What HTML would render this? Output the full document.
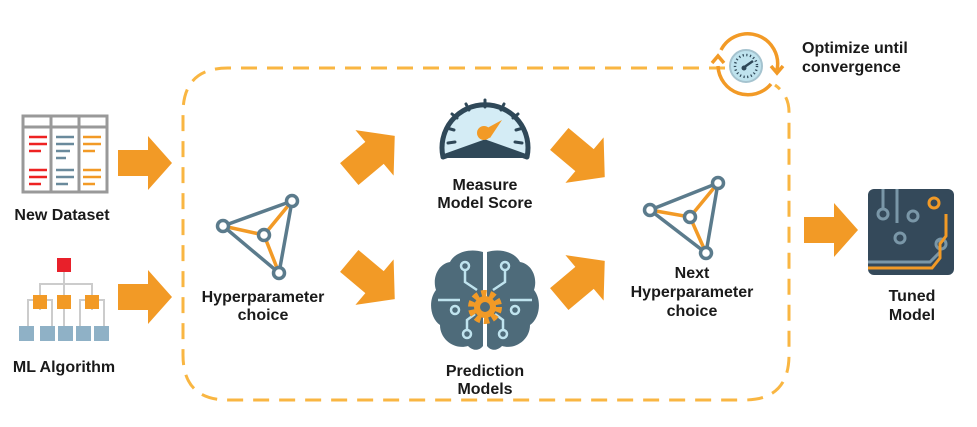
<!DOCTYPE html>
<html><head><meta charset="utf-8"><style>
html,body{margin:0;padding:0;background:#fff;}
svg{display:block}
text{font-family:"Liberation Sans",sans-serif;font-weight:bold;font-size:16px;fill:#1a1a1a;text-anchor:middle}
</style></head><body>
<svg width="977" height="427" viewBox="0 0 977 427" xmlns="http://www.w3.org/2000/svg">
<defs>
<g id="arr"><path d="M-27,-13 H3 V-27 L27,0 L3,27 V13 H-27 Z" fill="#f29a26"/></g>
</defs>
<path d="M725,68 H228 Q183,68 183,113 V355 Q183,400 228,400 H744 Q789,400 789,355 V112 Q789,95 775,85" fill="none" stroke="#f9b642" stroke-width="3" stroke-dasharray="16,10"/>
<use href="#arr" transform="translate(145,163)"/>
<use href="#arr" transform="translate(145,297)"/>
<use href="#arr" transform="translate(372,155) rotate(-40) scale(1.1)"/>
<use href="#arr" transform="translate(372,280) rotate(40) scale(1.1)"/>
<use href="#arr" transform="translate(582,158) rotate(40) scale(1.1)"/>
<use href="#arr" transform="translate(582,280) rotate(-40) scale(1.1)"/>
<use href="#arr" transform="translate(831,230)"/>
<rect x="23" y="116" width="84" height="76" fill="#fff" stroke="#999" stroke-width="3"/>
<line x1="23" y1="127" x2="107" y2="127" stroke="#999" stroke-width="3"/>
<line x1="51" y1="116" x2="51" y2="192" stroke="#999" stroke-width="3"/>
<line x1="79" y1="116" x2="79" y2="192" stroke="#999" stroke-width="3"/>
<g stroke-width="2.5">
<path d="M29,137h18M29,144h18M29,151h12M29,170h18M29,177h18M29,184h12" stroke="#e22"/>
<path d="M56,137h18M56,144h18M56,151h14M56,158h10M56,170h18M56,177h18M56,184h12" stroke="#6a8a9c"/>
<path d="M83,137h18M83,144h18M83,151h12M83,170h18M83,177h18M83,184h12" stroke="#f29a26"/>
</g>
<text x="62" y="220">New Dataset</text>
<g stroke="#ccc" stroke-width="2" fill="none">
<path d="M64,264V310M40,310V284H92V310M40,300H28V330M40,300H52V330M92,300H80V330M92,300H104V330M64,310V330"/>
</g>
<rect x="57" y="258" width="14" height="14" fill="#e8202a"/>
<g fill="#f29a26"><rect x="33" y="295" width="14" height="14"/><rect x="57" y="295" width="14" height="14"/><rect x="85" y="295" width="14" height="14"/></g>
<g fill="#8fb1c6"><rect x="19" y="326" width="15" height="15"/><rect x="40" y="326" width="15" height="15"/><rect x="58" y="326" width="15" height="15"/><rect x="76" y="326" width="15" height="15"/><rect x="94" y="326" width="15" height="15"/></g>
<text x="64" y="372">ML Algorithm</text>
<path d="M223,226L292,201L279,273Z" fill="none" stroke="#5b7b8c" stroke-width="3.5"/>
<path d="M223,226L264,235L292,201M264,235L279,273" fill="none" stroke="#f29a26" stroke-width="3.5"/>
<g fill="#fff" stroke="#5b7b8c" stroke-width="3.5"><circle cx="223" cy="226" r="5.5"/><circle cx="292" cy="201" r="5.5"/><circle cx="279" cy="273" r="5.5"/><circle cx="264" cy="235" r="5.5"/></g>
<text x="263" y="302">Hyperparameter</text>
<text x="263" y="320">choice</text>
<path d="M443,157 A43,43 0 1 1 527,157 L485,142 Z" fill="#d4ecf5" stroke="#2f4858" stroke-width="5" stroke-linejoin="round"/>
<path d="M442,158 L485,142 L528,158 Z" fill="#2f4858"/>
<g stroke="#2f4858" stroke-width="3" stroke-linecap="round">
<path d="M485,100v7M466,104l3,6M504,104l-3,6M452,114l5,4M518,114l-5,4M447,128l7,2M523,128l-7,2M448,143l7,-1M522,143l-7,-1"/>
</g>
<path d="M478,133 L502,120 L490,138 Z" fill="#f29a26"/><circle cx="484" cy="133" r="7" fill="#f29a26"/>
<text x="485" y="190">Measure</text>
<text x="485" y="208">Model Score</text>
<path d="M483,252 C470,248 455,252 450,262 C438,264 432,278 436,290 C428,300 430,318 440,325 C440,340 455,350 468,346 C474,352 480,350 483,346 Z" fill="#4e6b7a"/>
<path d="M487,252 C500,248 515,252 520,262 C532,264 538,278 534,290 C542,300 540,318 530,325 C530,340 515,350 502,346 C496,352 490,350 487,346 Z" fill="#4e6b7a"/>
<g stroke="#bfe3ee" stroke-width="2.5" fill="none">
<path d="M465,270v12l12,8M505,270v12l-12,8M438,300h22M532,300h-22M467,330v-10l8,-6M503,330v-10l-8,-6"/>
<circle cx="465" cy="266" r="4"/><circle cx="505" cy="266" r="4"/><circle cx="455" cy="310" r="4"/><circle cx="515" cy="310" r="4"/><circle cx="467" cy="334" r="4"/><circle cx="503" cy="334" r="4"/>
</g>
<circle cx="485" cy="307" r="13" fill="none" stroke="#f29a26" stroke-width="8" stroke-dasharray="5,3.2"/>
<circle cx="485" cy="307" r="11" fill="#f29a26"/><circle cx="485" cy="307" r="5" fill="#4e6b7a"/>
<text x="485" y="376">Prediction</text>
<text x="485" y="394">Models</text>
<path d="M650,210L718,183L706,253Z" fill="none" stroke="#5b7b8c" stroke-width="3.5"/>
<path d="M650,210L690,217L718,183M690,217L706,253" fill="none" stroke="#f29a26" stroke-width="3.5"/>
<g fill="#fff" stroke="#5b7b8c" stroke-width="3.5"><circle cx="650" cy="210" r="5.5"/><circle cx="718" cy="183" r="5.5"/><circle cx="706" cy="253" r="5.5"/><circle cx="690" cy="217" r="5.5"/></g>
<text x="692" y="278">Next</text>
<text x="692" y="297">Hyperparameter</text>
<text x="692" y="316">choice</text>
<rect x="868" y="189" width="86" height="86" rx="6" fill="#34495a"/>
<g stroke="#7a97a8" stroke-width="3" fill="none">
<path d="M883,189v20M897,189v34M868,262h62l10,-10v-12"/>
<circle cx="883" cy="214" r="5"/><circle cx="900" cy="238" r="5"/><circle cx="913" cy="216" r="5"/><circle cx="941" cy="244" r="5"/>
</g>
<path d="M868,268h64l8,-10v-14l6,-8v-22" fill="none" stroke="#f29a26" stroke-width="3"/>
<circle cx="934" cy="203" r="5" fill="none" stroke="#f29a26" stroke-width="3"/>
<text x="912" y="301">Tuned</text>
<text x="912" y="320">Model</text>
<path d="M721,50 A30,30 0 0 1 777,70" fill="none" stroke="#f29a26" stroke-width="3.5"/>
<path d="M771,66 l6,7 l6,-7" fill="none" stroke="#f29a26" stroke-width="3.5"/>
<path d="M771,84 A30,30 0 0 1 718,66" fill="none" stroke="#f29a26" stroke-width="3.5"/>
<path d="M712,63 l6,-7 l6,7" fill="none" stroke="#f29a26" stroke-width="3.5"/>
<circle cx="746" cy="66" r="16" fill="#bfe3ee" stroke="#a5c3cf" stroke-width="2"/>
<circle cx="746" cy="66" r="11" fill="none" stroke="#2f4858" stroke-width="2.5" stroke-dasharray="1.2,2.5"/>
<path d="M743,68 L753,61" stroke="#2f4858" stroke-width="2.5"/><circle cx="744" cy="68" r="2.5" fill="#2f4858"/>
<text x="802" y="53" style="text-anchor:start">Optimize until</text>
<text x="802" y="72" style="text-anchor:start">convergence</text>
</svg>
</body></html>
